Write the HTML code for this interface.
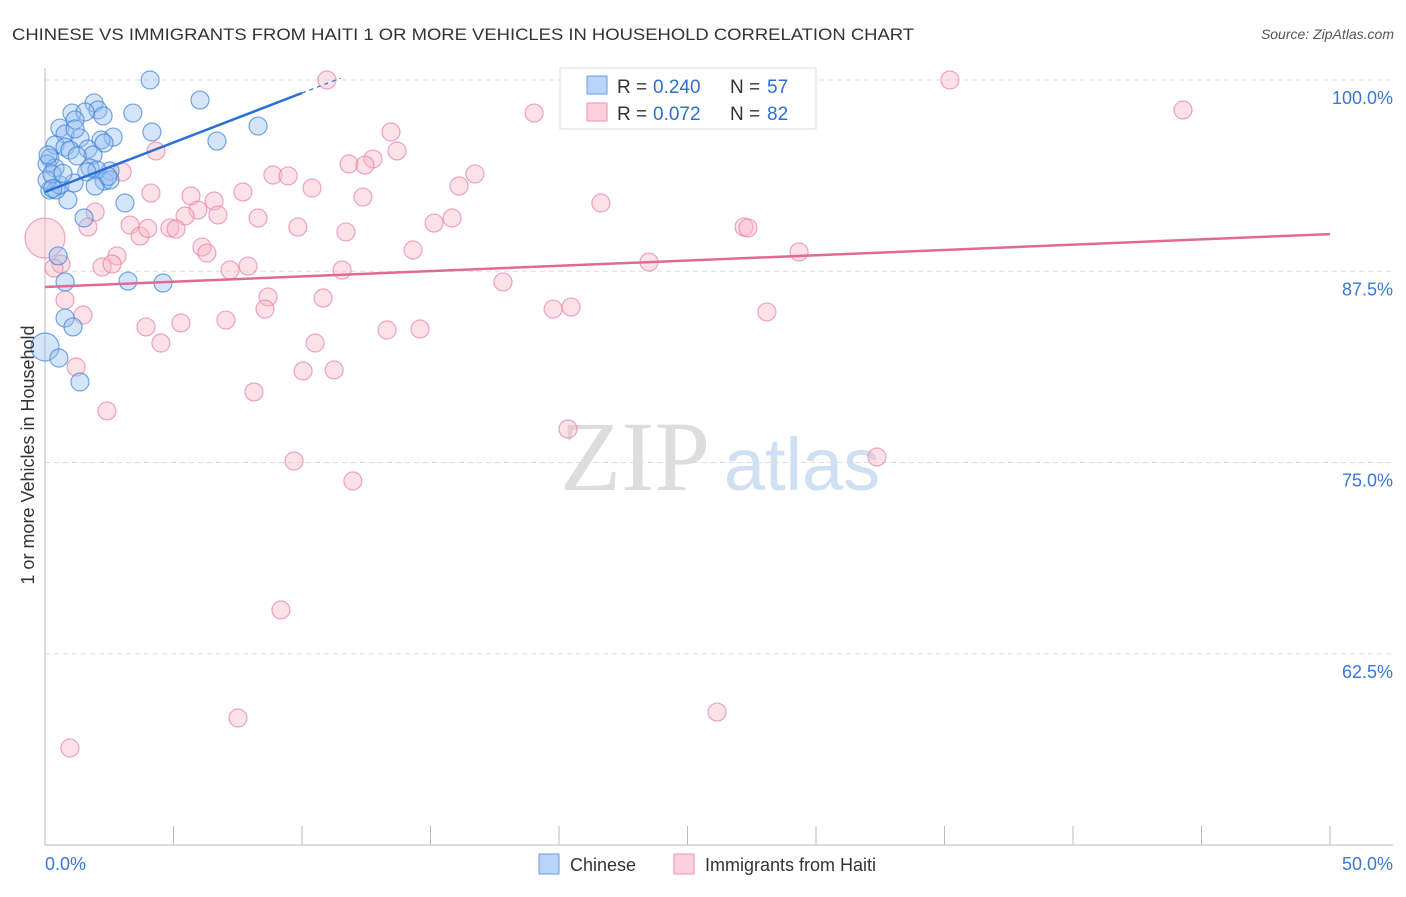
<!DOCTYPE html>
<html><head><meta charset="utf-8"><style>
body{margin:0;background:#fff;font-family:"Liberation Sans",sans-serif}
svg text{font-family:"Liberation Sans",sans-serif}
</style></head><body>
<svg width="1406" height="892" xmlns="http://www.w3.org/2000/svg">
<text x="12" y="40" font-size="17" fill="#333" textLength="902" lengthAdjust="spacingAndGlyphs">CHINESE VS IMMIGRANTS FROM HAITI 1 OR MORE VEHICLES IN HOUSEHOLD CORRELATION CHART</text>
<text x="1394" y="39" font-size="14" fill="#555" font-style="italic" text-anchor="end">Source: ZipAtlas.com</text>
<g>
<text x="635" y="490" font-size="100" fill="#ddd" text-anchor="middle" style="font-family:'Liberation Serif',serif">ZIP</text>
<text x="802" y="490" font-size="74" fill="#cfe0f3" text-anchor="middle">atlas</text>
</g>
<g id="grid"></g>
<g id="axes"></g>
<g id="marks"></g>
<g id="trends"></g>
<g>
<rect x="560" y="68" width="256" height="61" fill="#fff" stroke="#ddd"/>
<rect x="587" y="76" width="20" height="18" fill="#b8d4f6" stroke="#6aa0e0"/>
<g font-size="19">
<text x="617" y="93" fill="#333">R =</text><text x="653" y="93" fill="#2d6fd0">0.240</text>
<text x="730" y="93" fill="#333">N =</text><text x="767" y="93" fill="#2d6fd0">57</text></g>
<rect x="587" y="103" width="20" height="18" fill="#fbcfdc" stroke="#ee90ac"/>
<g font-size="19">
<text x="617" y="120" fill="#333">R =</text><text x="653" y="120" fill="#2d6fd0">0.072</text>
<text x="730" y="120" fill="#333">N =</text><text x="767" y="120" fill="#2d6fd0">82</text></g>
</g>
<g>
<rect x="539" y="854" width="20" height="20" fill="#b8d4f6" stroke="#6aa0e0"/>
<text x="570" y="871" font-size="18" fill="#333">Chinese</text>
<rect x="674" y="854" width="20" height="20" fill="#fbcfdc" stroke="#ee90ac"/>
<text x="705" y="871" font-size="18" fill="#333">Immigrants from Haiti</text>
</g>
<text transform="translate(34,455) rotate(-90)" font-size="18" fill="#333" text-anchor="middle">1 or more Vehicles in Household</text>
</svg>
<script>
const yTicks=[100,87.5,75,62.5];
const yTickLabels=["100.0%","87.5%","75.0%","62.5%"];
const xTicks=[0,5,10,15,20,25,30,35,40,45,50];
const xEndLabels=["0.0%","50.0%"];
const chineseX=[4.09,6.03,3.42,1.91,1.05,2.06,1.56,2.26,0.58,1.17,4.16,8.29,2.65,2.18,0.78,1.36,6.69,1.67,0.39,0.78,2.30,0.97,1.87,1.25,0.19,0.08,0.39,1.75,2.53,2.02,3.11,0.89,0.19,0.43,0.58,1.13,2.30,2.53,0.08,1.52,0.78,3.23,4.59,0.78,1.09,0,0.54,1.36,0.51,0.12,1.63,1.95,0.27,1.17,2.45,0.3,0.7];
const chineseY=[100.0,98.69,97.84,98.50,97.84,98.04,97.91,97.65,96.86,97.39,96.60,96.99,96.27,96.08,96.47,96.21,96.01,95.49,95.75,95.62,95.88,95.42,95.10,95.03,94.90,94.51,94.25,94.25,94.05,94.12,91.96,92.16,92.81,92.81,93.14,93.27,93.40,93.46,93.46,90.98,86.80,86.86,86.73,84.44,83.86,82.55,81.83,80.26,88.50,95.10,93.99,93.07,93.86,96.8,93.7,92.9,93.9];
const haitiX=[10.97,35.21,44.28,19.03,13.46,4.32,13.70,11.83,12.76,12.45,3.00,8.87,9.46,16.73,10.39,16.11,4.12,7.70,5.68,6.58,12.37,21.63,1.95,5.95,5.45,6.73,8.29,15.84,15.14,3.31,1.67,4.86,5.10,9.84,11.71,27.20,27.35,3.70,6.11,6.30,14.32,29.34,2.80,0,0.62,0.35,2.22,2.61,7.20,7.90,11.56,23.50,17.82,8.68,10.82,0.78,8.56,19.77,20.47,28.09,1.48,7.04,5.29,3.93,13.31,14.59,4.51,10.51,1.21,10.04,11.25,8.13,2.41,20.35,9.69,32.37,11.98,9.18,7.51,26.15,0.97,4.0];
const haitiY=[100.0,100.0,98.04,97.84,96.60,95.36,95.36,94.51,94.84,94.44,93.99,93.79,93.73,93.86,92.94,93.07,92.61,92.68,92.42,92.09,92.35,91.96,91.37,91.50,91.11,91.18,90.98,90.98,90.65,90.52,90.39,90.33,90.26,90.39,90.07,90.39,90.33,89.80,89.08,88.69,88.89,88.76,88.50,89.67,87.97,87.71,87.78,87.97,87.58,87.84,87.58,88.10,86.80,85.82,85.75,85.62,85.03,85.03,85.16,84.84,84.64,84.31,84.12,83.86,83.66,83.73,82.81,82.81,81.24,80.98,81.05,79.61,78.37,77.19,75.10,75.36,73.79,65.36,58.30,58.69,56.34,90.3];
const chineseTrend=[92.68,0.647,10,11.5];
const haitiTrend=[86.47,0.0692,50];
const NS="http://www.w3.org/2000/svg";
const X=v=>45+v*25.7, Y=v=>80+(100-v)*15.3;
function mk(tag,attrs,parent){const e=document.createElementNS(NS,tag);for(const k in attrs)e.setAttribute(k,attrs[k]);document.getElementById(parent).appendChild(e);return e;}
yTicks.forEach((t,i)=>{
 const l=mk('line',{x1:45,x2:1393,y1:Y(t),y2:Y(t),stroke:'#ddd','stroke-dasharray':'5,4'},'grid');
 
 
 const tx=mk('text',{x:1393,y:Y(t)+24,'font-size':18,fill:'#3a78d4','text-anchor':'end'},'axes');
 tx.textContent=yTickLabels[i];
 
 
});
let a=mk('line',{x1:45,x2:45,y1:68,y2:845,stroke:'#bbb'},'axes');


a=mk('line',{x1:45,x2:1393,y1:845,y2:845,stroke:'#bbb'},'axes');


xTicks.forEach(t=>{const l=mk('line',{x1:X(t),x2:X(t),y1:826,y2:845,stroke:'#bbb'},'axes');
 
 });
[[0,'start',45],[50,'end',1393]].forEach((d,i)=>{const tx=mk('text',{x:d[2],y:870,'font-size':18,fill:'#3a78d4','text-anchor':d[1]},'axes');tx.textContent=xEndLabels[i];
 
 });
haitiX.forEach((x,i)=>{const big=(x===0&&haitiY[i]>89)?20:9;
 const c=mk('circle',{cx:X(x),cy:Y(haitiY[i]),r:big,fill:'rgba(248,180,200,0.4)',stroke:'rgba(230,120,155,0.65)','stroke-width':1.2},'marks');
 
 });
chineseX.forEach((x,i)=>{const r=(x===0&&chineseY[i]<83)?14:9;
 const c=mk('circle',{cx:X(x),cy:Y(chineseY[i]),r:r,fill:'rgba(150,190,240,0.4)',stroke:'rgba(60,130,215,0.7)','stroke-width':1.2},'marks');
 
 });
const [bi,bs,be,bd]=chineseTrend;
let t=mk('line',{x1:X(0),y1:Y(bi),x2:X(be),y2:Y(bi+bs*be),stroke:'#2a6fd6','stroke-width':2.5},'trends');


t=mk('line',{x1:X(be),y1:Y(bi+bs*be),x2:X(bd),y2:Y(bi+bs*bd),stroke:'#2a6fd6','stroke-width':1.2,'stroke-dasharray':'4,4'},'trends');


const [hi,hs,he]=haitiTrend;
t=mk('line',{x1:X(0),y1:Y(hi),x2:X(he),y2:Y(hi+hs*he),stroke:'#e06a93','stroke-width':2.5},'trends');


</script>
</body></html>
